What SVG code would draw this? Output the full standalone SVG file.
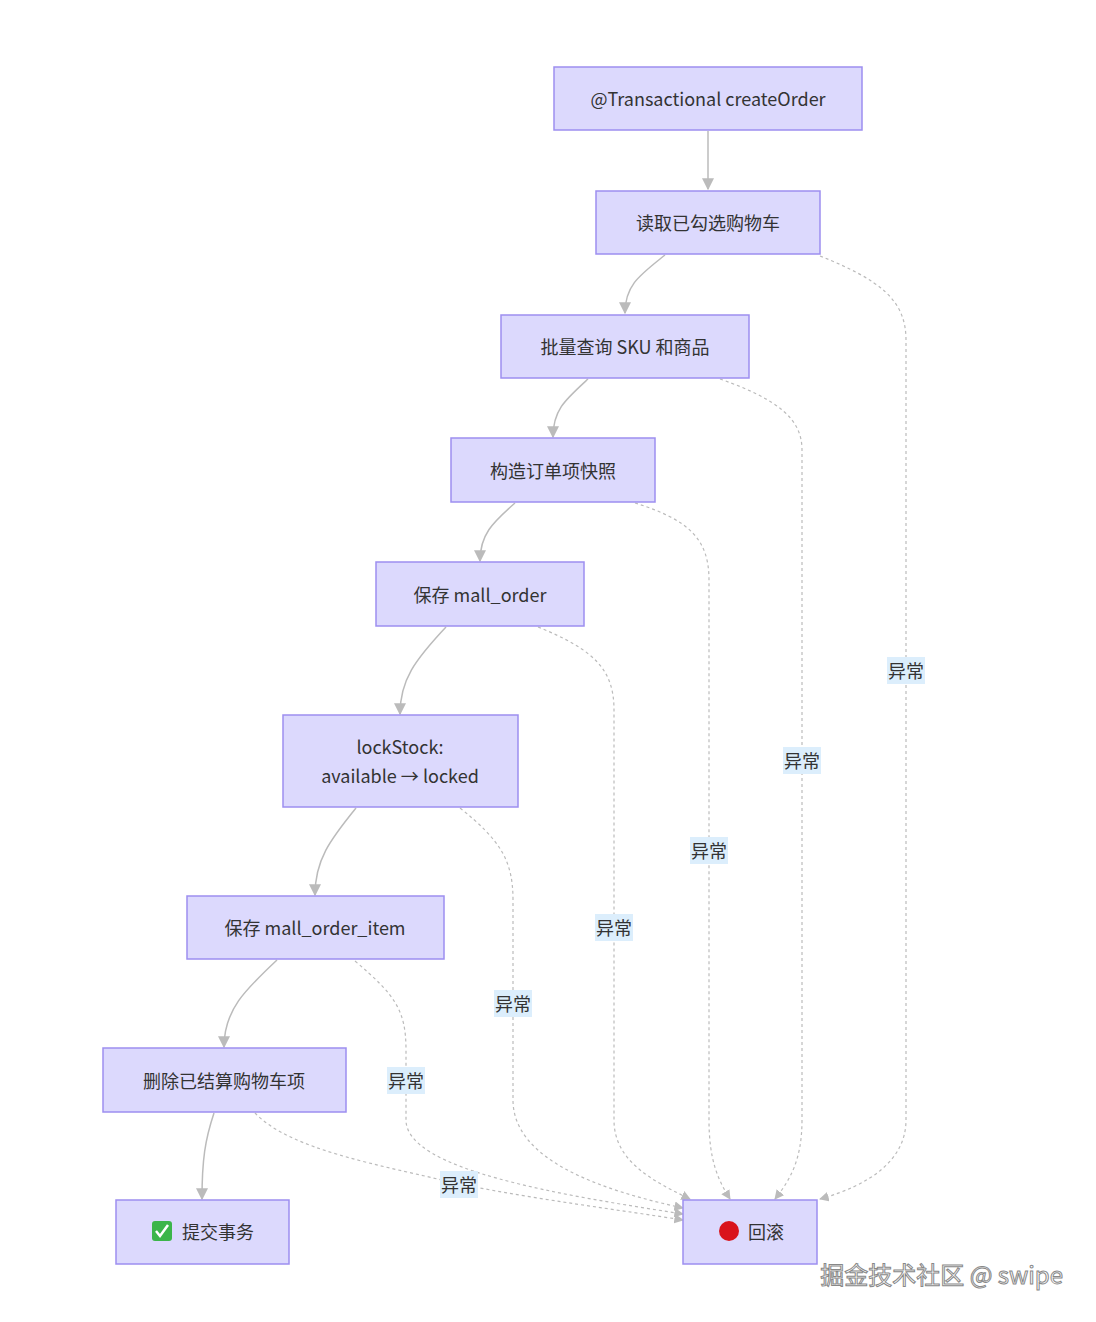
<svg xmlns="http://www.w3.org/2000/svg" width="1096" height="1322" viewBox="0 0 1096 1322">
<style>
.n{fill:#dcd9fd;stroke:#9d8ef0;stroke-width:1.5}
.t{font-family:"Noto Sans CJK SC","Noto Sans",sans-serif;font-size:18px;fill:#333;text-anchor:middle;dominant-baseline:central}
.s{fill:none;stroke:#bbb;stroke-width:1.5}
.d{fill:none;stroke:#bbb;stroke-width:1.2;stroke-dasharray:3 3}
.lb{fill:#dceefc}
.lt{font-family:"Noto Sans CJK SC",sans-serif;font-size:18px;fill:#333;text-anchor:middle;dominant-baseline:central}
</style>
<defs><marker id="a" viewBox="0 0 10 10" refX="9" refY="5" markerWidth="8" markerHeight="8" orient="auto"><path d="M0,0L10,5L0,10z" fill="#bbb"/></marker></defs>
<rect width="1096" height="1322" fill="#fff"/>
<g id="edges">
<path class="s" marker-end="url(#a)" d="M708,131L708,189"/>
<path class="s" marker-end="url(#a)" d="M665,255C640,275 625,285 625,313"/>
<path class="s" marker-end="url(#a)" d="M588,379C565,400 553,410 553,437"/>
<path class="s" marker-end="url(#a)" d="M515,503C492,523 480,535 480,561"/>
<path class="s" marker-end="url(#a)" d="M446,627C415,660 400,680 400,714"/>
<path class="s" marker-end="url(#a)" d="M356,808C330,840 315,860 315,895"/>
<path class="s" marker-end="url(#a)" d="M277,960C245,990 224,1010 224,1047"/>
<path class="s" marker-end="url(#a)" d="M214,1113C205,1140 202,1160 202,1199"/>
<path class="d" marker-end="url(#a)" d="M820,256C880,280 906,300 906,340L906,1120C906,1160 870,1185 820,1199"/>
<path class="d" marker-end="url(#a)" d="M720,379C780,400 802,420 802,450L802,1120C802,1160 790,1180 775,1199"/>
<path class="d" marker-end="url(#a)" d="M635,503C690,520 709,540 709,580L709,1120C709,1160 718,1180 730,1199"/>
<path class="d" marker-end="url(#a)" d="M538,627C595,650 614,670 614,710L614,1120C614,1160 650,1180 690,1199"/>
<path class="d" marker-end="url(#a)" d="M460,808C500,840 513,860 513,900L513,1100C513,1160 600,1190 683,1208"/>
<path class="d" marker-end="url(#a)" d="M355,961C395,995 406,1010 406,1050L406,1120C406,1170 560,1195 683,1214"/>
<path class="d" marker-end="url(#a)" d="M255,1113C290,1150 380,1165 459,1184C540,1200 620,1210 683,1220"/>
</g>
<g id="labels">
<rect class="lb" x="887" y="657" width="38" height="27"/><text class="lt" x="906" y="670">异常</text>
<rect class="lb" x="783" y="747" width="38" height="27"/><text class="lt" x="802" y="760">异常</text>
<rect class="lb" x="690" y="837" width="38" height="27"/><text class="lt" x="709" y="850">异常</text>
<rect class="lb" x="595" y="914" width="38" height="27"/><text class="lt" x="614" y="927">异常</text>
<rect class="lb" x="494" y="990" width="38" height="27"/><text class="lt" x="513" y="1003">异常</text>
<rect class="lb" x="387" y="1067" width="38" height="27"/><text class="lt" x="406" y="1080">异常</text>
<rect class="lb" x="440" y="1171" width="38" height="27"/><text class="lt" x="459" y="1184">异常</text>
</g>
<g id="n1"><rect class="n" x="554" y="67" width="308" height="63"/><text class="t" x="708" y="98">@Transactional createOrder</text></g>
<g id="n2"><rect class="n" x="596" y="191" width="224" height="63"/><text class="t" x="708" y="222">读取已勾选购物车</text></g>
<g id="n3"><rect class="n" x="501" y="315" width="248" height="63"/><text class="t" x="625" y="346">批量查询 SKU 和商品</text></g>
<g id="n4"><rect class="n" x="451" y="438" width="204" height="64"/><text class="t" x="553" y="470">构造订单项快照</text></g>
<g id="n5"><rect class="n" x="376" y="562" width="208" height="64"/><text class="t" x="480" y="594">保存 mall_order</text></g>
<g id="n6"><rect class="n" x="283" y="715" width="235" height="92"/><text class="t" x="400" y="746">lockStock:</text><text class="t" x="400" y="775">available → locked</text></g>
<g id="n7"><rect class="n" x="187" y="896" width="257" height="63"/><text class="t" x="315" y="927">保存 mall_order_item</text></g>
<g id="n8"><rect class="n" x="103" y="1048" width="243" height="64"/><text class="t" x="224" y="1080">删除已结算购物车项</text></g>
<g id="n9"><rect class="n" x="116" y="1200" width="173" height="64"/><rect x="152" y="1221" width="20" height="20" rx="3" fill="#3bb54a"/><path d="M156,1231l4,5l8,-11" stroke="#fff" stroke-width="2.5" fill="none"/><text class="t" x="218" y="1231">提交事务</text></g>
<g id="n10"><rect class="n" x="683" y="1200" width="134" height="64"/><circle cx="729" cy="1231" r="10" fill="#d9141c"/><text class="t" x="766" y="1231">回滚</text></g>
<text x="1063" y="1284" text-anchor="end" font-family="Noto Sans CJK SC,sans-serif" font-size="24" fill="#fff" stroke="#888" stroke-width="1">掘金技术社区 @ swipe</text>
</svg>
